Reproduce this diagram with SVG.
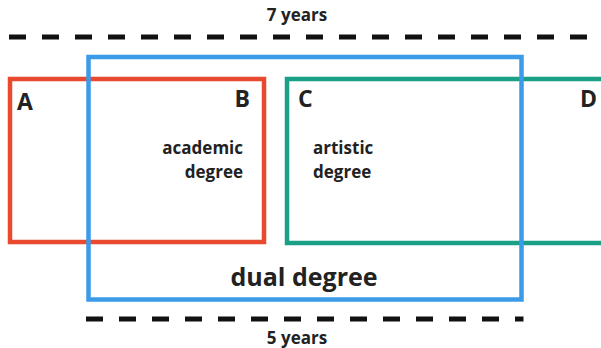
<svg xmlns="http://www.w3.org/2000/svg" width="601" height="348" viewBox="0 0 601 348">
<style>
text{font-family:"Open Sans","Noto Sans","Liberation Sans",sans-serif;font-weight:700;fill:#222}
.dash{stroke:#111;stroke-width:5;stroke-dasharray:17 16;fill:none}
.box{fill:none;stroke-width:4.5}
.lab{font-size:17px}
.let{font-size:23px}
</style>
<rect width="601" height="348" fill="#fff"/>
<g id="connectors">
<line class="dash" x1="9" y1="37" x2="601" y2="37"/>
<line class="dash" x1="86" y1="319" x2="523.5" y2="319"/>
</g>
<g id="academic">
<rect class="box" x="10" y="79" width="254" height="163" stroke="#E9492F"/>
<text class="let" x="17" y="110">A</text>
<text class="let" x="250" y="107" text-anchor="end">B</text>
<text class="lab" x="243" y="154" text-anchor="end">academic</text>
<text class="lab" x="243" y="178" text-anchor="end">degree</text>
</g>
<g id="artistic">
<rect class="box" x="287" y="79" width="330" height="164" stroke="#19A086"/>
<text class="let" x="298" y="107">C</text>
<text class="let" x="597" y="107" text-anchor="end">D</text>
<text class="lab" x="313" y="154">artistic</text>
<text class="lab" x="313" y="178">degree</text>
</g>
<g id="dual">
<rect class="box" x="88.5" y="57" width="433" height="242.5" stroke="#3B9BE9"/>
<text x="304" y="286" font-size="25" text-anchor="middle">dual degree</text>
</g>
<g id="years">
<text class="lab" x="297" y="21" text-anchor="middle">7 years</text>
<text class="lab" x="297" y="344" text-anchor="middle">5 years</text>
</g>
</svg>
